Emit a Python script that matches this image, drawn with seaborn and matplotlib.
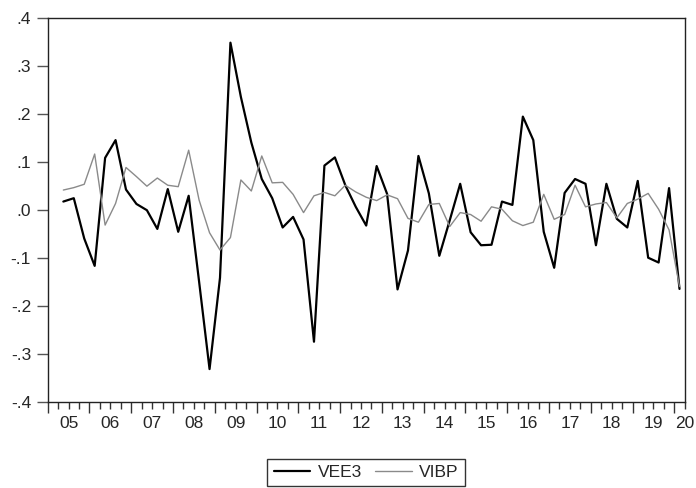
import numpy as np
import pandas as pd
import matplotlib
matplotlib.use('Agg')
import matplotlib.pyplot as plt
import matplotlib.transforms as mtransforms
import seaborn as sns

# Quarterly series, 2005Q2 - 2020Q1
start_quarter = '2005Q2'
vee3 = [0.017, 0.024, -0.060, -0.117, 0.108, 0.145, 0.042, 0.012, -0.001, -0.040,
        0.043, -0.046, 0.029, -0.150, -0.332, -0.142, 0.348, 0.235, 0.140, 0.064,
        0.024, -0.037, -0.015, -0.062, -0.275, 0.092, 0.109, 0.051, 0.006, -0.033,
        0.091, 0.033, -0.166, -0.085, 0.112, 0.034, -0.096, -0.022, 0.054, -0.047,
        -0.074, -0.073, 0.017, 0.010, 0.194, 0.145, -0.046, -0.121, 0.035, 0.064,
        0.054, -0.074, 0.054, -0.019, -0.037, 0.060, -0.100, -0.110, 0.045, -0.165]
vibp = [0.041, 0.046, 0.053, 0.116, -0.032, 0.013, 0.088, 0.069, 0.049, 0.066,
        0.051, 0.048, 0.124, 0.020, -0.048, -0.084, -0.058, 0.062, 0.039, 0.112,
        0.056, 0.057, 0.032, -0.006, 0.029, 0.036, 0.029, 0.051, 0.037, 0.026,
        0.019, 0.031, 0.023, -0.018, -0.026, 0.011, 0.013, -0.035, -0.006, -0.010,
        -0.024, 0.006, 0.001, -0.023, -0.033, -0.026, 0.032, -0.020, -0.010, 0.051,
        0.006, 0.012, 0.015, -0.017, 0.013, 0.022, 0.034, 0.001, -0.042, -0.160]

years = list(range(2005, 2021))
year_labels = ['05', '06', '07', '08', '09', '10', '11', '12', '13', '14',
               '15', '16', '17', '18', '19', '20']
yticks = [-0.4, -0.3, -0.2, -0.1, 0.0, 0.1, 0.2, 0.3, 0.4]
ytick_labels = ['-.4', '-.3', '-.2', '-.1', '.0', '.1', '.2', '.3', '.4']

# Build long-form table, x = mid point of each quarter
periods = pd.period_range(start_quarter, periods=len(vee3), freq='Q')
t = periods.year + (periods.quarter - 0.5) / 4
df = pd.concat([
    pd.DataFrame({'t': t, 'value': vee3, 'series': 'VEE3'}),
    pd.DataFrame({'t': t, 'value': vibp, 'series': 'VIBP'}),
])

sns.set_style('white')
plt.rcParams['font.family'] = ['Liberation Sans', 'DejaVu Sans']
fs = 12.5

fig = plt.figure(figsize=(6.96, 4.88), dpi=100)
ax = fig.add_axes([0.0685, 0.1768, 0.9153, 0.7869])

sns.lineplot(data=df, x='t', y='value', hue='series', size='series',
             palette={'VEE3': 'black', 'VIBP': '#8a8a8a'},
             sizes={'VEE3': 1.6, 'VIBP': 1.0}, ax=ax)

ax.set_xlim(2005, 2020.25)
ax.set_ylim(-0.4, 0.4)
ax.set_xlabel('')
ax.set_ylabel('')

# y axis
ax.set_yticks(yticks)
ax.set_yticklabels(ytick_labels, fontsize=fs)
ax.tick_params(axis='y', left=True, length=8, width=1, color='#555555', pad=4)

# x axis: year ticks + quarter minor ticks, labels in the middle of each year
ax.set_xticks(years)
ax.set_xticklabels([])
ax.set_xticks(np.arange(2005, 2020.26, 0.25), minor=True)
ax.tick_params(axis='x', which='major', bottom=True, length=8, width=1, color='#333333')
ax.tick_params(axis='x', which='minor', bottom=True, length=5, width=1, color='#333333')
trans = mtransforms.blended_transform_factory(ax.transData, ax.transAxes)
for yr, lab in zip(years, year_labels):
    xpos = yr + 0.5 if yr < 2020 else 2020.24
    ax.text(xpos, -0.057, lab, transform=trans, ha='center', va='center',
            fontsize=fs, clip_on=False)

for side in ['left', 'bottom', 'top', 'right']:
    ax.spines[side].set_visible(True)
    ax.spines[side].set_color('#222222')
    ax.spines[side].set_linewidth(1.0)

sns.move_legend(ax, 'upper center', bbox_to_anchor=(0.5, -0.149),
                ncol=2, title=None, frameon=True, fontsize=fs,
                handlelength=2.1, handletextpad=0.45, columnspacing=0.75,
                borderpad=0.35, fancybox=False, borderaxespad=0)
leg = ax.get_legend()
leg.get_frame().set_edgecolor('black')
leg.get_frame().set_linewidth(1.0)

fig.savefig('out.png', dpi=100)
